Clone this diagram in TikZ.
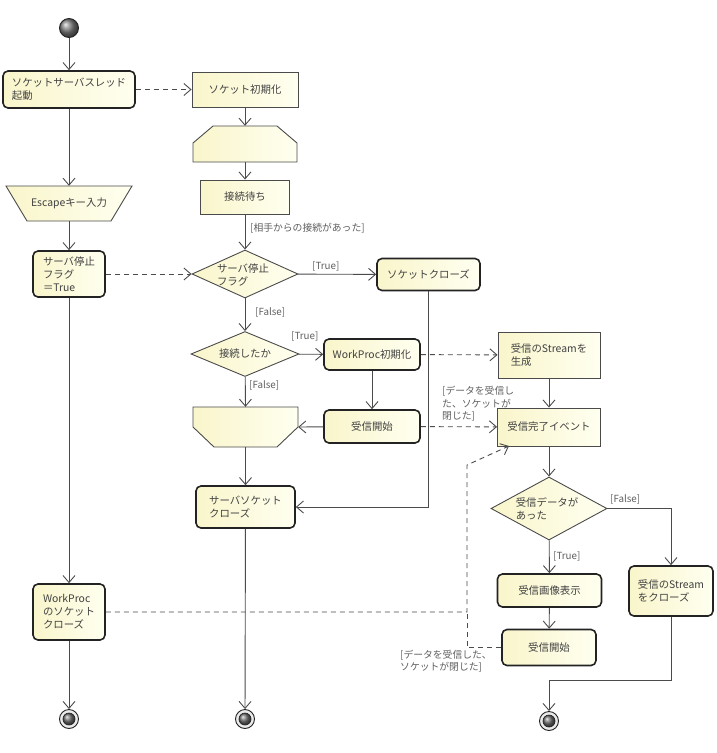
\documentclass[tikz,border=0pt]{standalone}
\usepackage{fontspec}
\setmainfont{Noto Sans CJK JP}
\usetikzlibrary{arrows.meta,shapes.geometric}
\definecolor{ya}{RGB}{249,245,203}
\definecolor{yb}{RGB}{255,255,240}
\definecolor{ln}{RGB}{75,75,75}
\definecolor{bd}{RGB}{35,35,35}
\definecolor{tx}{RGB}{65,65,65}
\begin{document}
\begin{tikzpicture}[x=1pt,y=-1pt,
  font=\fontsize{10.4}{13}\selectfont, text=tx,
  act/.style={draw=bd, line width=1.6pt, rounded corners=5pt, left color=ya, right color=yb, inner sep=0pt, align=left},
  plain/.style={draw=ln, line width=0.9pt, left color=ya, right color=yb, inner sep=0pt, align=left},
  ghost/.style={inner sep=0pt, align=center},
  dia/.style={diamond, draw=ln, line width=0.9pt, left color=ya, right color=yb, inner sep=0pt},
  flow/.style={draw=ln, line width=0.9pt, -{Straight Barb[length=7pt,width=12pt,line width=0.9pt]}},
  dep/.style={flow, dash pattern=on 5pt off 4pt},
  depline/.style={draw=ln, line width=0.9pt, dash pattern=on 5pt off 4pt},
  lab/.style={font=\fontsize{9.8}{12.5}\selectfont, text=tx!85, inner sep=0pt, anchor=west, align=left},
  startn/.style={circle, draw=bd, line width=0.9pt, ball color=black!50, minimum size=19pt, inner sep=0pt},
  endo/.style={circle, draw=bd, line width=0.9pt, fill=black!8, minimum size=19pt, inner sep=0pt},
  endi/.style={circle, draw=bd, line width=0.7pt, ball color=black!55, minimum size=12pt, inner sep=0pt}
]
\useasboundingbox (0,0) rectangle (717,753);

% start
\node[startn] (start) at (69,28) {};

% left column
\node[act, minimum width=132pt, minimum height=37pt] (a) at (69,89.5) {ソケットサーバスレッド\\起動};
\path[plain] (6,186) -- (132,186) -- (111,221) -- (27,221) -- cycle;
\node[ghost, minimum width=126pt, minimum height=35pt] (esc) at (69,203.5) {Escapeキー入力};
\node[act, minimum width=72pt, minimum height=46pt] (f) at (69,274) {サーバ停止\\フラグ\\＝True};
\node[act, minimum width=72pt, minimum height=56pt] (q) at (69,612) {WorkProc\\のソケット\\クローズ};

% middle column
\node[plain, minimum width=106pt, minimum height=35pt, align=center] (b) at (245,89.5) {ソケット初期化};
\path[plain] (213,126) -- (277,126) -- (297,143) -- (297,162) -- (193,162) -- (193,143) -- cycle;
\node[ghost, minimum width=104pt, minimum height=36pt] (h1) at (245,144) {};
\node[plain, minimum width=89pt, minimum height=34pt, align=center] (wait) at (245,197) {接続待ち};
\node[dia, minimum width=106pt, minimum height=48pt] (d1) at (245,274) {};
\node[ghost, align=left] (d1t) at (243,275) {サーバ停止\\フラグ};
\node[dia, minimum width=108pt, minimum height=45pt] (d2) at (245,354) {};
\node[ghost] (d2t) at (245,354) {接続したか};
\path[plain] (193,407) -- (298,407) -- (298,427) -- (277,447) -- (214,447) -- (193,427) -- cycle;
\node[ghost, minimum width=105pt, minimum height=40pt] (h2) at (245.5,427) {};
\node[act, minimum width=99pt, minimum height=42pt] (m) at (245.5,507) {サーバソケット\\クローズ};

% second-middle column
\node[act, minimum width=103pt, minimum height=32pt, align=center] (g) at (428.5,274.5) {ソケットクローズ};
\node[act, minimum width=96pt, minimum height=31pt, align=center] (i) at (372,354.5) {WorkProc初期化};
\node[act, minimum width=96pt, minimum height=33pt, align=center] (k) at (372,426.5) {受信開始};

% right column
\node[plain, minimum width=102pt, minimum height=46pt] (j) at (549,355) {受信のStreamを\\生成};
\node[plain, minimum width=103pt, minimum height=38pt, align=center] (l) at (549,427) {受信完了イベント};
\node[dia, minimum width=116pt, minimum height=63pt] (d3) at (549,508.5) {};
\node[ghost, align=left] (d3t) at (547,509) {受信データが\\あった};
\node[act, minimum width=104pt, minimum height=33pt, align=center] (o) at (549.5,590.5) {受信画像表示};
\node[act, minimum width=94pt, minimum height=36pt, align=center] (p) at (549,647.5) {受信開始};
\node[act, minimum width=84pt, minimum height=50pt] (n) at (671,591) {受信のStream\\をクローズ};

% end nodes
\node[endo] (e1) at (69,719) {};
\node[endi] (e1i) at (e1) {};
\node[endo] (e2) at (245,719) {};
\node[endi] (e2i) at (e2) {};
\node[endo] (e3) at (549,721) {};
\node[endi] (e3i) at (e3) {};

% helper coordinates
\coordinate (c1) at (549,680);
\coordinate (c2) at (467,612);
\coordinate (c3) at (467,465);
\coordinate (c4) at (509,446);

% connectors
\draw[flow] (start) -- (a);
\draw[dep] (a) -- (b);
\draw[flow] (a) -- (esc.north);
\draw[flow] (b) -- (h1.north);
\draw[flow] (h1.south) -- (wait);
\draw[flow] (wait) -- (d1);
\draw[flow] (esc.south) -- (f);
\draw[dep] (f) -- (d1);
\draw[flow] (d1) -- (g);
\draw[flow] (d1) -- (d2);
\draw[flow] (d2) -- (i);
\draw[dep] (i) -- (j);
\draw[flow] (d2) -- (h2.north);
\draw[flow] (i) -- (k);
\draw[flow] (k) -- (h2.east);
\draw[dep] (k) -- (l);
\draw[flow] (j) -- (l);
\draw[flow] (g.south) |- (m.east);
\draw[flow] (h2.south) -- (m);
\draw[flow] (m) -- (e2);
\draw[flow] (f) -- (q);
\draw[flow] (q) -- (e1);
\draw[flow] (l) -- (d3);
\draw[flow] (d3) -- (o);
\draw[flow] (d3.east) -| (n.north);
\draw[flow] (o) -- (p);
\draw[flow] (n.south) |- (c1) -- (e3);
\draw[dep] (q.east) -- (c2) -- (c3) -- (c4);
\draw[depline] (p.west) -| (c2);

% labels
\node[lab] (l1) at (250,228) {[相手からの接続があった]};
\node[lab] (l2) at (312,266) {[True]};
\node[lab] (l3) at (255,312) {[False]};
\node[lab] (l4) at (291,336) {[True]};
\node[lab] (l5) at (249,385) {[False]};
\node[lab] (l6) at (442,404) {[データを受信し\\た、ソケットが\\閉じた]};
\node[lab] (l7) at (610,499) {[False]};
\node[lab] (l8) at (553,556) {[True]};
\node[lab] (l9) at (400,661) {[データを受信した、\\ソケットが閉じた]};
\end{tikzpicture}
\end{document}
